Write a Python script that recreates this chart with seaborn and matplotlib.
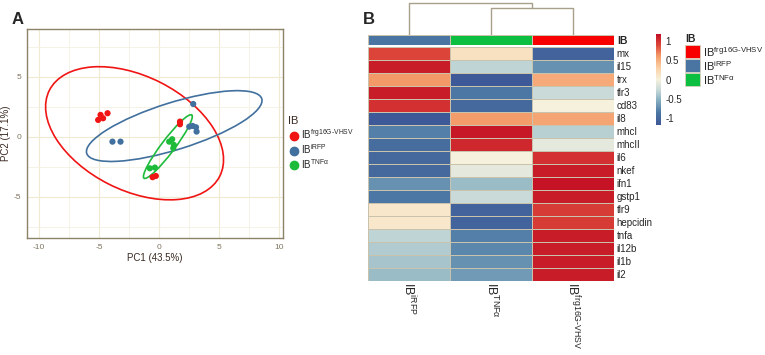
import numpy as np
import pandas as pd
import matplotlib
matplotlib.use('Agg')
import matplotlib.pyplot as plt
import seaborn as sns
from matplotlib.patches import Ellipse, Rectangle
from matplotlib.colors import LinearSegmentedColormap, ListedColormap
from matplotlib.lines import Line2D

# --- PCA scores (panel A) ---
pc_group = ['frg'] * 8 + ['iRFP'] * 7 + ['TNF'] * 6
pc1 = [-5.08, -4.88, -4.67, -4.30, 1.73, 1.73, -0.55, -0.28,
       -3.89, -3.22, 2.83, 2.50, 2.78, 3.06, 3.11,
       0.83, 1.08, 1.22, 1.17, -0.78, -0.36]
pc2 = [1.39, 1.81, 1.53, 1.95, 1.25, 1.03, -3.38, -3.28,
       -0.42, -0.42, 2.72, 0.83, 0.89, 0.78, 0.42,
       -0.42, -0.22, -0.69, -0.97, -2.64, -2.58]

# 95% ellipses: centre, semi-axes, angle
ell_group = ['frg', 'iRFP', 'TNF']
ell_cx = [-2.05, 1.25, 0.72]
ell_cy = [0.28, 0.88, -0.83]
ell_a = [7.94, 7.63, 3.30]
ell_b = [4.75, 1.96, 0.55]
ell_angle = [-26.8, 17.4, 53]

# --- heatmap (panel B), row z-scores ---
genes = ['mx', 'il15', 'trx', 'tlr3', 'cd83', 'il8', 'mhcI', 'mhcII', 'il6',
         'nkef', 'ifn1', 'gstp1', 'tlr9', 'hepcidin', 'tnfa', 'il12b', 'il1b', 'il2']
col_keys = ['iRFP', 'TNF', 'frg']
z_irfp = [0.90, 1.10, 0.62, 1.10, 1.00, -1.15, -0.80, -0.95, -1.00,
          -1.00, -0.70, -0.85, 0.10, 0.10, -0.30, -0.35, -0.40, -0.45]
z_tnf = [0.15, -0.30, -1.15, -0.85, -1.00, 0.60, 1.12, 1.05, 0.00,
         -0.10, -0.45, -0.25, -1.05, -1.05, -0.80, -0.75, -0.70, -0.65]
z_frg = [-1.05, -0.70, 0.53, -0.25, 0.00, 0.55, -0.32, -0.10, 1.00,
         1.10, 1.15, 1.10, 0.95, 0.95, 1.10, 1.10, 1.10, 1.10]
# column dendrogram merge heights: (TNF, frg) first, then iRFP
merge_heights = [5.3, 6.3]

labels = {'frg': r'IB$^{\mathrm{frg16G\text{-}VHSV}}$',
          'iRFP': r'IB$^{\mathrm{iRFP}}$',
          'TNF': r'IB$^{\mathrm{TNFα}}$'}
pt_colors = {'frg': '#F01414', 'iRFP': '#41709E', 'TNF': '#1DBB3A'}
ann_colors = {'frg': '#F80000', 'iRFP': '#4A75A3', 'TNF': '#0CBF40'}

sns.set_style('white')
plt.rcParams['font.family'] = ['Liberation Sans', 'DejaVu Sans']
plt.rcParams['mathtext.fontset'] = 'custom'
plt.rcParams['mathtext.rm'] = 'Liberation Sans'
plt.rcParams['mathtext.it'] = 'Liberation Sans:italic'
plt.rcParams['mathtext.bf'] = 'Liberation Sans:bold'
plt.rcParams['axes.unicode_minus'] = False

W, H = 765, 355
fig = plt.figure(figsize=(W / 100, H / 100), dpi=100)


def px_axes(left, top, right, bottom):
    return fig.add_axes([left / W, 1 - bottom / H, (right - left) / W, (bottom - top) / H])


# ---------------- panel A ----------------
ax = px_axes(27, 29, 283, 238)
df_pc = pd.DataFrame({'PC1': pc1, 'PC2': pc2, 'IB': pc_group})
sns.scatterplot(data=df_pc, x='PC1', y='PC2', hue='IB', palette=pt_colors,
                s=20, linewidth=0, legend=False, ax=ax, zorder=3)
for g, cx, cy, a, b, ang in zip(ell_group, ell_cx, ell_cy, ell_a, ell_b, ell_angle):
    ax.add_patch(Ellipse((cx, cy), 2 * a, 2 * b, angle=ang, fill=False,
                         ec=pt_colors[g], lw=1.2, zorder=2))
ax.set_xlim(-11.0, 10.3)
ax.set_ylim(-8.45, 8.97)
ax.set_xticks([-10, -5, 0, 5, 10])
ax.set_yticks([-5, 0, 5])
ax.set_xticks(np.arange(-7.5, 10, 5), minor=True)
ax.set_yticks([-7.5, -2.5, 2.5, 7.5], minor=True)
ax.grid(True, which='major', color='#EEEBD2', lw=0.8)
ax.grid(True, which='minor', color='#F3F1E0', lw=0.6)
ax.set_axisbelow(True)
for sp in ax.spines.values():
    sp.set_color('#8C8268')
    sp.set_linewidth(1.0)
ax.tick_params(axis='both', which='major', direction='out', length=2.5, width=0.6,
               color='#8C8268', labelcolor='#7F7560', labelsize=6, pad=1.5)
ax.tick_params(axis='both', which='minor', length=0)
ax.set_xlabel('PC1 (43.5%)', fontsize=7, color='#3A2A22', labelpad=2)
ax.set_ylabel('PC2 (17.1%)', fontsize=7, color='#3A2A22', labelpad=2)

handles = [Line2D([], [], ls='', marker='o', ms=6, color=pt_colors[g]) for g in ell_group]
leg = ax.legend(handles, [labels[g] for g in ell_group], title='IB', frameon=False,
                loc='upper left', bbox_to_anchor=(288 / W, 1 - 116 / H),
                bbox_transform=fig.transFigure, fontsize=7, title_fontsize=8,
                handletextpad=0.1, labelspacing=0.12, handlelength=1.2,
                borderaxespad=0, borderpad=0, alignment='left')
leg.get_title().set_color('#3A2A22')

fig.text(12 / W, 1 - 19 / H, 'A', fontsize=12, fontweight='bold', va='center')
fig.text(363 / W, 1 - 19 / H, 'B', fontsize=12, fontweight='bold', va='center')

# ---------------- panel B ----------------
hm_l, hm_r = 368.3, 614
ax_d = px_axes(hm_l, 3.3, hm_r, 35)
ax_a = px_axes(hm_l, 35, hm_r, 45)
ax_h = px_axes(hm_l, 46.5, hm_r, 281)
ax_c = px_axes(655.7, 34.3, 661.3, 125)

hm_cmap = LinearSegmentedColormap.from_list('hm', [
    (0.00, '#3D5796'), (0.14, '#4C78A4'), (0.27, '#86AFC0'), (0.39, '#C9DAD9'),
    (0.50, '#F6F1DD'), (0.63, '#FBD0A5'), (0.76, '#F49C69'), (0.88, '#DD473A'),
    (1.00, '#C30F24')])
df_z = pd.DataFrame({'iRFP': z_irfp, 'TNF': z_tnf, 'frg': z_frg}, index=genes)
sns.heatmap(df_z, ax=ax_h, cmap=hm_cmap, vmin=-1.17, vmax=1.17, cbar_ax=ax_c,
            linewidths=0.5, linecolor='#C9C2AC')
ax_h.set_yticks(np.arange(len(genes)) + 0.5)
ax_h.set_yticklabels(genes, rotation=0, fontsize=7)
ax_h.yaxis.tick_right()
ax_h.tick_params(axis='y', length=0, pad=2)
ax_h.set_xticks(np.arange(len(col_keys)) + 0.5)
ax_h.set_xticklabels([labels[k] for k in col_keys], rotation=-90, fontsize=9,
                     va='top', ha='center')
ax_h.tick_params(axis='x', length=0, pad=1)
ax_h.set_xlabel('')
ax_h.set_ylabel('')

ax_c.tick_params(length=0, labelsize=7, pad=3)
ax_c.set_yticks([-1, -0.5, 0, 0.5, 1])
ax_c.set_yticklabels(['-1', '-0.5', '0', '0.5', '1'])
for sp in ax_c.spines.values():
    sp.set_visible(False)

# annotation bar
df_ann = pd.DataFrame([[0, 1, 2]], columns=col_keys, index=['IB'])
sns.heatmap(df_ann, ax=ax_a, cmap=ListedColormap([ann_colors[k] for k in col_keys]),
            cbar=False, linewidths=0.5, linecolor='#C9C2AC', xticklabels=False)
ax_a.set_yticks([0.5])
ax_a.set_yticklabels(['IB'], rotation=0, fontsize=7.5, fontweight='bold')
ax_a.yaxis.tick_right()
ax_a.tick_params(axis='y', length=0, pad=2)
ax_a.set_ylabel('')

# column dendrogram
h1, h2 = merge_heights
dcol = '#A8A08A'
ax_d.plot([1.5, 1.5, 2.5, 2.5], [0, h1, h1, 0], color=dcol, lw=1, clip_on=False)
ax_d.plot([0.5, 0.5, 2.0, 2.0], [0, h2, h2, h1], color=dcol, lw=1, clip_on=False)
ax_d.set_xlim(0, 3)
ax_d.set_ylim(0, h2)
ax_d.axis('off')

# annotation legend
fig.text(685 / W, 1 - 38.5 / H, 'IB', fontsize=7.5, fontweight='bold', va='center')
for i, k in enumerate(['frg', 'iRFP', 'TNF']):
    top = 45 + i * 14
    fig.add_artist(Rectangle((685 / W, 1 - (top + 13.3) / H), 15 / W, 13.3 / H,
                             transform=fig.transFigure, fc=ann_colors[k],
                             ec='#D8D2C0', lw=0.6))
    fig.text(703 / W, 1 - (top + 7.5) / H, labels[k], fontsize=8, va='center')

fig.savefig('out.png', dpi=100)
